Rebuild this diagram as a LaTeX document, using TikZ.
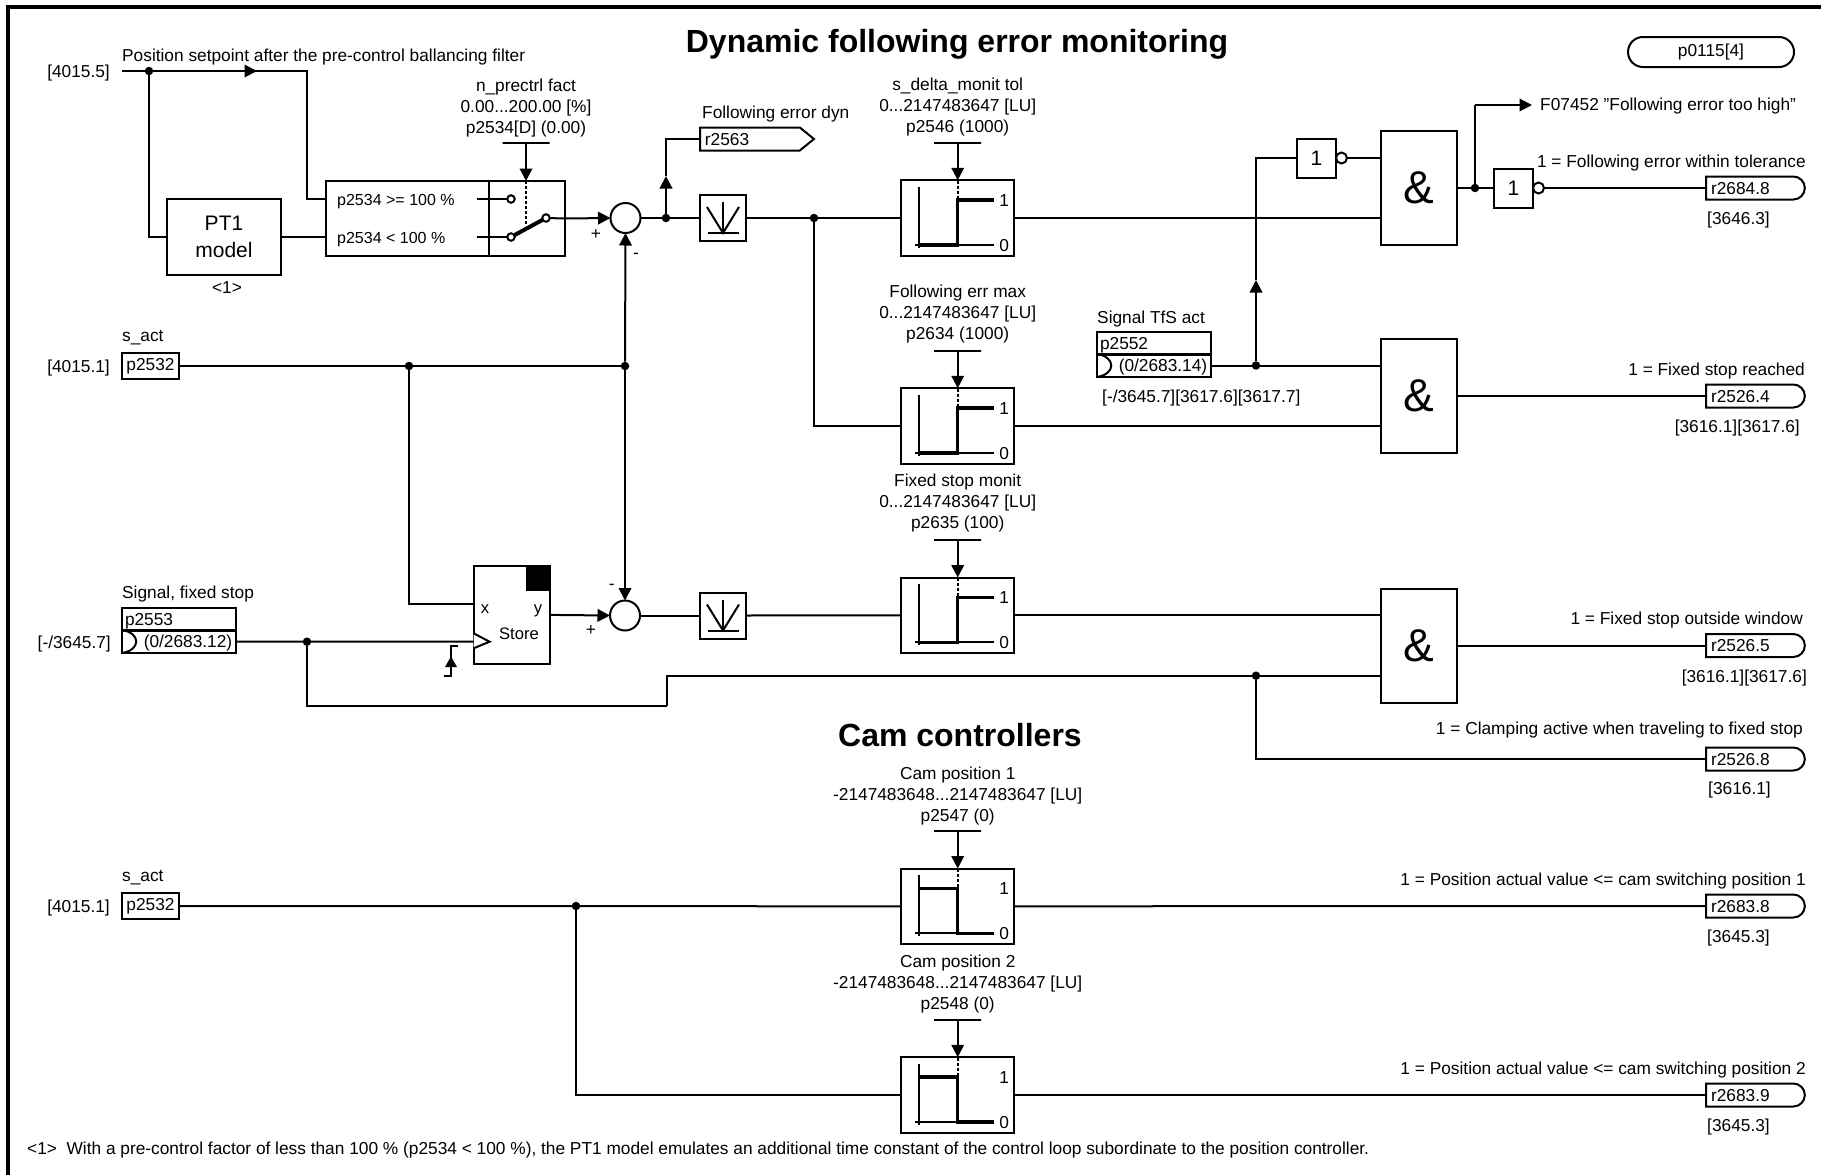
\documentclass[tikz,border=0pt]{standalone}
\usepackage{fontspec}
\setmainfont{Liberation Sans}
\usepackage{tikz}
\usetikzlibrary{arrows.meta,shapes.misc,shapes.symbols}

\begin{document}
\begin{tikzpicture}[x=1pt,y=-1pt,
  font=\fontsize{17.3}{21}\selectfont,
  conn/.style={line width=2pt},
  arrowed/.style={conn,-{Triangle[length=12.5pt,width=12.5pt]}},
  lbl/.style={inner sep=0pt,text height=12.4pt,text depth=0pt},
  lbll/.style={lbl,anchor=west},
  lblr/.style={lbl,anchor=east},
  parlbl/.style={inner sep=0pt,align=center},
  box/.style={draw,line width=2pt,inner sep=0pt,outer sep=0pt},
  parbar/.style={draw,line width=2pt,inner sep=0pt,outer sep=0pt,minimum width=47pt,minimum height=0pt},
  jdot/.style={circle,fill,inner sep=0pt,minimum size=8.5pt},
  sumcirc/.style={box,circle,minimum size=30pt},
  contact/.style={box,circle,fill=white,minimum size=7.5pt},
  bubble/.style={box,circle,fill=white,minimum size=11pt},
  parbox/.style={box,minimum width=57pt,minimum height=26pt},
  bicobox/.style={box,minimum width=114pt,minimum height=23pt,text height=12.4pt,text depth=0pt},
  andgate/.style={box,minimum width=76pt,minimum height=114pt,font=\fontsize{46}{46}\selectfont},
  notgate/.style={box,minimum width=39pt,minimum height=39pt,font=\fontsize{21}{21}\selectfont},
  filtbox/.style={box,minimum width=46pt,minimum height=46pt},
  cmpbox/.style={box,minimum width=113pt,minimum height=75.5pt},
  outbox/.style={box,rounded rectangle,rounded rectangle west arc=none,anchor=west,
    minimum height=23pt,text width=87pt,inner xsep=5pt,text height=12.4pt,text depth=0pt},
  pics/filtsym/.style={code={
    \draw[conn] (-16,-11) -- (0,15) -- (16,-11);
    \draw[conn] (0,-16) -- (0,15);
    \draw[conn] (-15,15) -- (16,15);
  }},
  pics/risegraph/.style={code={
    \draw[conn] (-39,-31) -- (-39,30);
    \draw[conn] (-43,27) -- (36,27);
    \draw[line width=3.5pt] (-39,27) -- (0,27) -- (0,-18) -- (36,-18);
    \draw[line width=2pt,densely dashed] (0,-37.5) -- (0,-18);
    \node[lbl] (-one) at (46.5,-18) {1};
    \node[lbl] (-zero) at (46.5,27) {0};
  }},
  pics/fallgraph/.style={code={
    \draw[conn] (-39,-31) -- (-39,30);
    \draw[conn] (-43,27) -- (36,27);
    \draw[line width=3.5pt] (-39,-18) -- (0,-18) -- (0,27) -- (36,27);
    \draw[line width=2pt,densely dashed] (0,-37.5) -- (0,-18);
    \node[lbl] (-one) at (46.5,-18) {1};
    \node[lbl] (-zero) at (46.5,27) {0};
  }}]
  \useasboundingbox (0,0) rectangle (1821,1175);
  \draw[line width=4pt] (8,1175) -- (8,7) -- (1821,7);

  \node[inner sep=0pt,font=\fontsize{32}{32}\selectfont\bfseries] (title) at (957,44) {Dynamic following error monitoring};
  \node[inner sep=0pt,font=\fontsize{32}{32}\selectfont\bfseries] (camtitle) at (960,735) {Cam controllers};
  \node[box,rounded rectangle,minimum width=166pt,minimum height=30pt] (pmode) at (1711,52) {p0115[4]};
  \node[lbll] (footnote) at (27,1148) {<1>\ \ With a pre-control factor of less than 100 \% (p2534 < 100 \%), the PT1 model emulates an additional time constant of the control loop subordinate to the position controller.};

  \node[lblr] (srcset) at (110,71) {[4015.5]};
  \node[lbll] (setlbl) at (122,55) {Position setpoint after the pre-control ballancing filter};
  \coordinate (setin) at (122,71);
  \node[jdot] (jset) at (149,71) {};
  \coordinate (setarr) at (257,71);
  \node[box,minimum width=114pt,minimum height=76pt,align=center,font=\fontsize{21}{27}\selectfont] (pt1) at (224,237) {PT1\\model};
  \node[lbl] (pt1note) at (227,287) {<1>};
  \node[box,minimum width=163pt,minimum height=75pt] (swleft) at (407.5,218.5) {};
  \node[box,minimum width=76pt,minimum height=75pt] (swright) at (527,218.5) {};
  \node[lbll,font=\fontsize{16}{18}\selectfont] (swhigh) at (337,199) {p2534 >= 100 \%};
  \node[lbll,font=\fontsize{16}{18}\selectfont] (swlow) at (337,237) {p2534 < 100 \%};
  \coordinate (inhigh) at (477,199);
  \coordinate (inlow) at (477,237);
  \node[contact] (conhigh) at (511,199) {};
  \node[contact] (conlow) at (511,237) {};
  \node[contact] (conout) at (546,218) {};
  \node[parlbl] (precpar) at (526,108) {n\_prectrl fact\\0.00...200.00 [\%]\\p2534[D] (0.00)};
  \node[parbar] (precbar) at (526,143) {};
  \coordinate (precend) at (526,224);
  \node[sumcirc] (sumtop) at (625.5,218) {};
  \node[lbl] (sumplus) at (596,233) {+};
  \node[lbl] (summinus) at (636,252) {-};

  \draw[conn] (setin) -- (setarr);
  \draw[arrowed] (jset) -- (setarr);
  \draw[conn] (setarr) -| (307,199) -- (307,199 -| swleft.west);
  \draw[conn] (jset) |- (pt1.west);
  \draw[conn] (pt1.east) -- (pt1.east -| swleft.west);
  \draw[conn] (inhigh) -- (conhigh);
  \draw[conn] (inlow) -- (conlow);
  \draw[line width=4pt] (conlow) -- (conout);
  \draw[conn] (conout) -- (swright.east);
  \draw[arrowed] (swright.east) -- (sumtop.west);
  \draw[arrowed] (precbar) -- (swright.north -| precbar);
  \draw[line width=2pt,densely dashed] (swright.north -| precbar) -- (precend);

  \node[lbll] (rdynlbl) at (702,112) {Following error dyn};
  \node[box,signal,signal to=east,signal pointer angle=78,anchor=west,minimum height=23pt,minimum width=114pt,text width=90pt,inner xsep=3pt,text height=12.4pt,text depth=0pt] (rdyn) at (700,139) {r2563};
  \node[jdot] (jerr) at (666,218) {};
  \coordinate (errarr) at (666,176);
  \node[filtbox] (filta) at (723,218) {};
  \pic at (723,218) {filtsym};
  \node[jdot] (jfilt) at (814,218) {};
  \node[cmpbox] (cmpa) at (957.7,218) {};
  \pic (cmpagraph) at (957.7,218) {risegraph};
  \node[parlbl] (cmpapar) at (957.7,107.5) {s\_delta\_monit tol\\0...2147483647 [LU]\\p2546 (1000)};
  \node[parbar] (cmpabar) at (957.7,143) {};
  \node[cmpbox] (cmpb) at (957.7,426) {};
  \pic (cmpbgraph) at (957.7,426) {risegraph};
  \node[parlbl] (cmpbpar) at (957.7,314.5) {Following err max\\0...2147483647 [LU]\\p2634 (1000)};
  \node[parbar] (cmpbbar) at (957.7,351) {};

  \draw[conn] (sumtop.east) -- (filta.west);
  \draw[arrowed] (jerr) -- (errarr);
  \draw[conn] (errarr) |- (rdyn.west);
  \draw[conn] (filta.east) -- (cmpa.west);
  \draw[conn] (jfilt) |- (cmpb.west);
  \draw[arrowed] (cmpabar) -- (cmpa.north);
  \draw[arrowed] (cmpbbar) -- (cmpb.north);

  \node[lbll] (tfslbl) at (1097,317) {Signal TfS act};
  \node[bicobox,align=left,text width=108pt,inner xsep=3pt] (tfstop) at (1154,343) {p2552};
  \node[bicobox] (tfsbot) at (1154,365.5) {\hspace{18pt}(0/2683.14)};
  \node[lbll] (tfsrefs) at (1102,396) {[-/3645.7][3617.6][3617.7]};
  \node[jdot] (jtfs) at (1256,365.5) {};
  \coordinate (tfsarr) at (1256,280);
  \draw[conn] (tfsbot.north west) .. controls +(19,3) and +(19,-3) .. (tfsbot.south west);

  \node[notgate] (nota) at (1316.5,158) {1};
  \node[bubble] (nota-b) at (1341.5,158) {};
  \node[andgate] (anda) at (1419,188) {\&};
  \node[andgate] (andb) at (1419,396) {\&};
  \node[jdot] (janda) at (1475,188) {};
  \coordinate (faultcor) at (1475,105);
  \coordinate (faultend) at (1532,105);
  \node[lbll] (fault) at (1540,104) {F07452 \symbol{34}Following error too high\symbol{34}};
  \node[notgate] (notb) at (1513.5,188) {1};
  \node[bubble] (notb-b) at (1538.5,188) {};

  \draw[conn] (cmpa.east) -- (cmpa.east -| anda.west);
  \draw[conn] (cmpb.east) -- (cmpb.east -| andb.west);
  \draw[conn] (tfsbot.east) -- (tfsbot.east -| andb.west);
  \draw[arrowed] (jtfs) -- (tfsarr);
  \draw[conn] (tfsarr) |- (nota.west);
  \draw[conn] (nota-b) -- (nota-b -| anda.west);
  \draw[conn] (anda.east) -- (notb.west);
  \draw[conn] (janda) -- (faultcor);
  \draw[arrowed] (faultcor) -- (faultend);

  \node[outbox] (rtol) at (1706,188) {r2684.8};
  \node[lblr] (rtollbl) at (1806,161) {1 = Following error within tolerance};
  \node[lbll] (rtolref) at (1707,218) {[3646.3]};
  \node[outbox] (rreach) at (1706,396) {r2526.4};
  \node[lblr] (rreachlbl) at (1805,369) {1 = Fixed stop reached};
  \node[lblr] (rreachref) at (1800,426) {[3616.1][3617.6]};
  \draw[conn] (notb-b) -- (rtol.west);
  \draw[conn] (andb.east) -- (rreach.west);

  \node[lblr] (srcact) at (110,366) {[4015.1]};
  \node[lbll] (actlbl) at (122,335) {s\_act};
  \node[parbox] (pact) at (150.5,366) {p2532};
  \node[jdot] (jacta) at (409,366) {};
  \node[jdot] (jactb) at (625,366) {};
  \coordinate (storex) at (473.6,603.7);
  \coordinate (storeclk) at (473.6,641.7);
  \node[lbll] (fixlbl) at (122,592.5) {Signal, fixed stop};
  \node[bicobox,align=left,text width=108pt,inner xsep=3pt] (fixtop) at (179,619) {p2553};
  \node[bicobox] (fixbot) at (179,641.5) {\hspace{18pt}(0/2683.12)};
  \node[lblr] (fixsrc) at (111,642) {[-/3645.7]};
  \draw[conn] (fixbot.north west) .. controls +(19,3) and +(19,-3) .. (fixbot.south west);
  \node[jdot] (jfix) at (307,641.7) {};
  \coordinate (clampa) at (667,705.7);
  \coordinate (clampb) at (667,675.7);
  \node[jdot] (jclamp) at (1256,675.7) {};
  \node[box,minimum width=76.4pt,minimum height=98.3pt] (store) at (511.8,614.9) {};
  \fill (526.4,565.7) rectangle (550,590.7);
  \node[lbl,font=\fontsize{16.6}{18}\selectfont] (storexlbl) at (485,607) {x};
  \node[lbl,font=\fontsize{16.6}{18}\selectfont] (storeylbl) at (538,607) {y};
  \node[lbl,font=\fontsize{16.6}{18}\selectfont] (storelbl) at (519,633) {Store};
  \draw[line width=2pt,fill=white] (473.6,633.3) -- (489.6,641.7) -- (473.6,648.3);
  \draw[conn] (443.5,676) -- (451,676) -- (451,646) -- (458,646);
  \fill (451,656.5) -- (457,667) -- (445,667) -- cycle;
  \node[sumcirc] (sumbot) at (625,615.5) {};
  \node[lbl] (sumbplus) at (591,629) {+};
  \node[lbl] (sumbminus) at (611.7,583) {-};
  \node[filtbox] (filtb) at (723,615.5) {};
  \pic at (723,615.5) {filtsym};
  \node[cmpbox] (cmpc) at (957.7,615.3) {};
  \pic (cmpcgraph) at (957.7,615.3) {risegraph};
  \node[parlbl] (cmpcpar) at (957.7,503.5) {Fixed stop monit\\0...2147483647 [LU]\\p2635 (100)};
  \node[parbar] (cmpcbar) at (957.7,540) {};
  \node[andgate] (andc) at (1419,645.5) {\&};
  \node[outbox] (rwin) at (1706,645.5) {r2526.5};
  \node[lblr] (rwinlbl) at (1803,618) {1 = Fixed stop outside window};
  \node[lblr] (rwinref) at (1807,676) {[3616.1][3617.6]};
  \node[outbox] (rclamp) at (1706,759) {r2526.8};
  \node[lblr] (rclamplbl) at (1803,728) {1 = Clamping active when traveling to fixed stop};
  \node[lbll] (rclampref) at (1708,788) {[3616.1]};

  \draw[conn] (pact.east) -- (jactb);
  \draw[arrowed] (jactb) -- (sumtop.south);
  \draw[arrowed] (jactb) -- (sumbot.north);
  \draw[conn] (jacta) |- (storex);
  \draw[conn] (fixbot.east) -- (storeclk);
  \draw[conn] (jfix) |- (clampa);
  \draw[conn] (clampa) -- (clampb) -- (jclamp);
  \draw[conn] (jclamp) -- (jclamp -| andc.west);
  \draw[conn] (jclamp) |- (rclamp.west);
  \draw[arrowed] (store.east) -- (sumbot.west);
  \draw[conn] (sumbot.east) -- (filtb.west);
  \draw[conn] (filtb.east) -- (cmpc.west);
  \draw[arrowed] (cmpcbar) -- (cmpc.north);
  \draw[conn] (cmpc.east) -- (cmpc.east -| andc.west);
  \draw[conn] (andc.east) -- (rwin.west);

  \node[lblr] (srccam) at (110,906) {[4015.1]};
  \node[lbll] (camlbl) at (122,875.5) {s\_act};
  \node[parbox] (pcam) at (150.5,906) {p2532};
  \node[jdot] (jcam) at (576,906) {};
  \node[cmpbox] (cama) at (957.7,906.3) {};
  \pic (camagraph) at (957.7,906.3) {fallgraph};
  \node[parlbl] (camapar) at (957.7,796) {Cam position 1\\-2147483648...2147483647 [LU]\\p2547 (0)};
  \node[parbar] (camabar) at (957.7,831) {};
  \node[cmpbox] (camb) at (957.7,1095) {};
  \pic (cambgraph) at (957.7,1095) {fallgraph};
  \node[parlbl] (cambpar) at (957.7,984) {Cam position 2\\-2147483648...2147483647 [LU]\\p2548 (0)};
  \node[parbar] (cambbar) at (957.7,1020) {};
  \node[outbox] (rcama) at (1706,906) {r2683.8};
  \node[lblr] (rcamalbl) at (1806,879) {1 = Position actual value <= cam switching position 1};
  \node[lbll] (rcamaref) at (1707,936) {[3645.3]};
  \node[outbox] (rcamb) at (1706,1095) {r2683.9};
  \node[lblr] (rcamblbl) at (1806,1068) {1 = Position actual value <= cam switching position 2};
  \node[lbll] (rcambref) at (1707,1125) {[3645.3]};

  \draw[conn] (pcam.east) -- (cama.west);
  \draw[conn] (jcam) |- (camb.west);
  \draw[arrowed] (camabar) -- (cama.north);
  \draw[arrowed] (cambbar) -- (camb.north);
  \draw[conn] (cama.east) -- (rcama.west);
  \draw[conn] (camb.east) -- (rcamb.west);
\end{tikzpicture}
\end{document}
